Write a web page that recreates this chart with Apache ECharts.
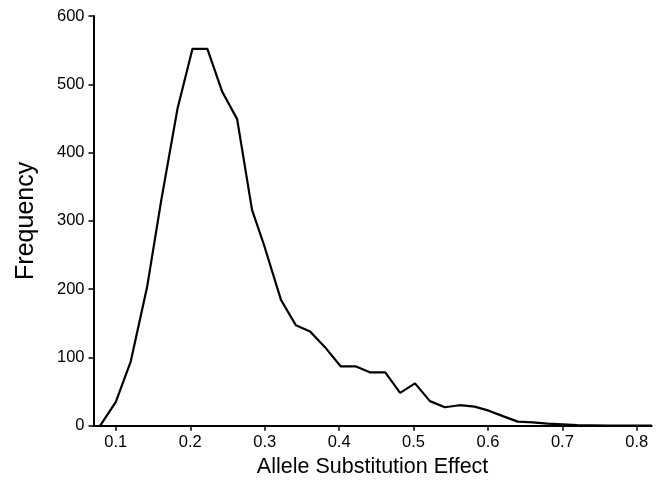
<!DOCTYPE html>
<html>
<head>
<meta charset="utf-8">
<script src="https://cdn.jsdelivr.net/npm/echarts@6/dist/echarts.min.js"></script>
<style>html,body{margin:0;padding:0;background:#fff;}#c{width:658px;height:491px;}</style>
</head>
<body>
<div id="c"></div>
<script>
var effect = [0.079,0.100,0.120,0.142,0.161,0.183,0.203,0.223,0.243,0.263,0.283,0.299,0.322,0.342,0.361,0.381,0.402,0.422,0.442,0.462,0.482,0.502,0.522,0.542,0.562,0.582,0.601,0.620,0.640,0.660,0.680,0.700,0.720,0.740,0.760,0.780,0.800,0.820];
var frequency = [0,35,94,203,330,465,552,552,489,449,316,265,184,147,138,115,87,87,78,78,48,62,36,27,30,28,22,14,6,5,3,2,1,0.5,0,0,0,0];
var xTicks = [0.1,0.2,0.3,0.4,0.5,0.6,0.7,0.8];
var yTicks = [0,100,200,300,400,500,600];

var chart = echarts.init(document.getElementById('c'));
var pts = effect.map(function(x,i){return [x, frequency[i]];});
chart.setOption({
  animation:false,
  grid:{left:93.5,right:6.3,top:16,bottom:65.3},
  xAxis:{type:'value',min:0.07,max:0.82,interval:0.1,
    name:'Allele Substitution Effect',nameLocation:'middle',nameGap:29,
    nameTextStyle:{fontFamily:'Liberation Sans',fontSize:21.5,color:'#000'},
    axisLine:{show:true,onZero:false,lineStyle:{color:'#000',width:2}},
    axisTick:{show:true,length:5,lineStyle:{color:'#000',width:1.5},customValues:xTicks},
    axisLabel:{fontFamily:'Liberation Sans',fontSize:16.5,color:'#000',margin:8,customValues:xTicks,
      formatter:function(v){return v.toFixed(1);}},
    splitLine:{show:false}},
  yAxis:{type:'value',min:0,max:600,interval:100,
    name:'Frequency',nameLocation:'middle',nameGap:55,nameRotate:90,
    nameTextStyle:{fontFamily:'Liberation Sans',fontSize:25,color:'#000'},
    axisLine:{show:true,lineStyle:{color:'#000',width:2}},
    axisTick:{show:true,length:5,lineStyle:{color:'#000',width:1.5}},
    axisLabel:{fontFamily:'Liberation Sans',fontSize:16.5,color:'#000',margin:9},
    splitLine:{show:false}},
  series:[{type:'line',data:pts,showSymbol:false,smooth:false,
    lineStyle:{color:'#000',width:2.2},clip:false}]
});
</script>
</body>
</html>
